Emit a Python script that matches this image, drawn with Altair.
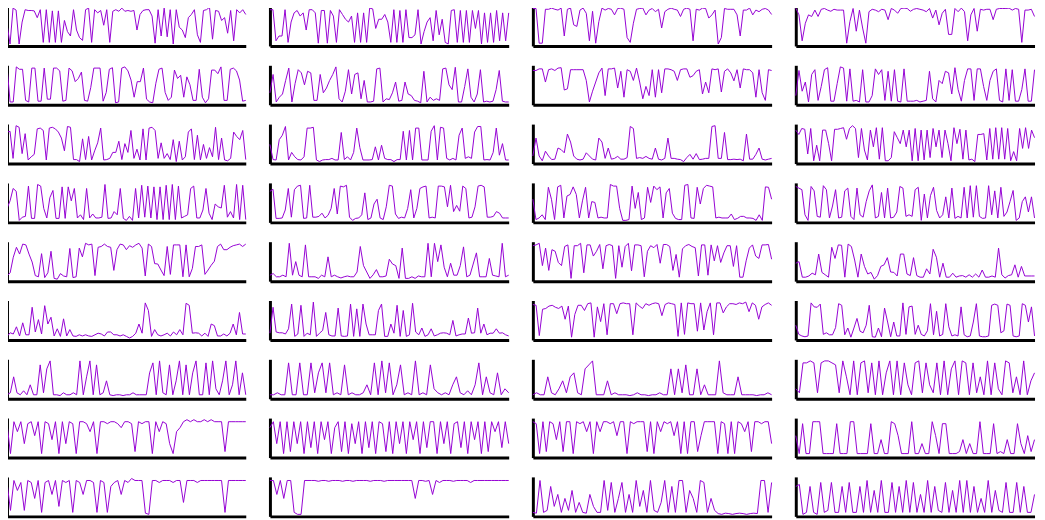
import altair as alt
import pandas as pd

# ---- values, level 0 (bottom) .. 9 (top), one list per panel, row by row ----
r1c1 = [5, 0, 9, 8.5, 0, 5.5, 8.6, 8.4, 8.4, 8.3, 6.6, 8.6, 0.4, 8.6, 0.4, 8.3, 0.4, 8.3, 0.4, 5.9, 3.1, 2, 8.6, 3.5, 1.6, 0.9, 8.6, 9, 0.4, 8.6, 7.8, 8.4, 4.7, 8.6, 0.4, 8.2, 8.6, 8.2, 9, 8.2, 8.4, 8.2, 8.4, 3.5, 7.4, 8.4, 8.6, 8.6, 7, 0.2, 8.6, 2, 9, 1.8, 8.6, 0, 8.6, 4.2, 3.5, 1.6, 6.6, 7.4, 8.6, 2.3, 0.4, 8.4, 8.6, 9.2, 1.2, 8.4, 8.2, 5.9, 6.6, 2.7, 8.4, 0.8, 8.6, 7.8, 8.6, 7.4]
r1c2 = [8.6, 8.6, 0.8, 2, 2, 8.6, 0.4, 5.5, 7.8, 8.4, 7, 7.8, 3.5, 8.6, 8.6, 7.8, 0.2, 8.4, 8.4, 0.2, 8.4, 7, 0.4, 8.6, 7.4, 6.2, 5.5, 7, 0.4, 7.8, 0.4, 7.8, 0.4, 9, 8.8, 3.9, 6.2, 6.2, 7.4, 5.5, 0.4, 8.6, 0.4, 8.4, 0.4, 8.6, 1.6, 1.6, 2.3, 8.6, 0, 3.1, 5.5, 6.6, 0.8, 8.4, 2.3, 6.2, 0.4, 0, 8.4, 8.6, 0.4, 8.4, 0.4, 8.4, 0.4, 8.4, 3.9, 8.4, 0, 7.8, 0.4, 7.8, 0.4, 8.4, 0.8, 7.8, 0.8, 7.8]
r1c3 = [8.9, 8.9, 0.2, 0.2, 8.7, 8.7, 9, 8.7, 8.5, 9, 2, 8.7, 9, 4.8, 4.4, 8.5, 9, 7.7, 0.8, 8.2, 0.2, 5.6, 9, 8.5, 8.9, 8.7, 7.3, 8.9, 9, 8.7, 1.6, 0.4, 5.2, 8.7, 8.9, 9, 7.3, 8.5, 8.9, 8.1, 8.7, 4, 8.1, 8.7, 9, 8.7, 8.5, 6.9, 8.7, 9, 8.7, 0.8, 8.7, 8.5, 9, 8.9, 6.5, 7.3, 8.5, 0, 1.6, 8.9, 8.7, 8.7, 8.7, 7.3, 2, 8.5, 8.5, 9, 7.3, 8.5, 8.1, 8.7, 8.9, 8.5, 7.4]
r1c4 = [9, 7.3, 0.8, 5.2, 7.3, 6.9, 8.5, 6.9, 8.7, 8.9, 8.5, 8.2, 8.7, 8.5, 8.5, 8.5, 0.2, 5.6, 8.9, 3.2, 8.5, 4, 0.2, 8.1, 8.7, 8.5, 8.1, 8.7, 8.5, 6.1, 8.9, 8.5, 7.7, 8.9, 9, 8.9, 8.2, 8.7, 8.9, 8.7, 8.5, 8.1, 8.9, 6.5, 8.5, 4.8, 7.7, 8.7, 2.4, 2.4, 8.9, 8.1, 9, 8.1, 0.8, 7.3, 8.9, 3.2, 8.7, 8.5, 8.7, 8.7, 6.1, 8.7, 8.9, 8.9, 8.9, 9, 8.5, 8.9, 8.7, 0.4, 8.5, 8.5, 8.7, 6.9]

r2c1 = [9, 0.2, 0.2, 9, 8.4, 8.4, 0.6, 0.2, 8.7, 8.7, 0.4, 0.4, 8.7, 0.9, 0.9, 8.7, 8.7, 8, 0.4, 0.6, 8.7, 8, 5.3, 6.1, 7.7, 0.6, 0.4, 3.8, 8.7, 8.7, 8.7, 0.4, 2.6, 8.4, 8.8, 0, 0.2, 8.7, 9, 8, 5.7, 1.4, 5.3, 5.3, 8.7, 0.9, 0.2, 0, 4.9, 8.4, 8.7, 2.6, 0.6, 1.4, 8.2, 6.1, 6.9, 1.4, 6.5, 4.5, 0.6, 0.6, 8.4, 1.4, 0, 1, 8.2, 8.2, 7.3, 9, 0.6, 0.6, 8.4, 8.7, 8, 5.7, 0.4, 0.6]
r2c2 = [2.5, 7.1, 0.2, 1.4, 2.2, 5.6, 8.7, 0.2, 4.8, 8.3, 7.5, 4.5, 7.9, 7.5, 0.6, 0.6, 7.1, 2.5, 3.7, 5.6, 7.1, 9, 1, 0.2, 2.9, 8.3, 2.2, 7.1, 7.5, 1, 5.6, 0.2, 0.2, 0.4, 8.5, 8.7, 0.2, 1, 0.8, 2.5, 5.2, 0.4, 0.6, 5.2, 2.2, 1.8, 0.6, 0.4, 0, 7.9, 0.2, 1.4, 0.6, 1, 0.6, 8.5, 8.7, 4.5, 3.3, 8.9, 0.2, 0.2, 4.1, 8.5, 1.4, 0.2, 2.2, 8.3, 0.2, 0.4, 0.2, 0.4, 3.3, 8.1, 0.4, 0.2, 0.2]
r2c3 = [8.1, 8.1, 8.5, 8.5, 5.2, 8.3, 8.5, 8.1, 8.7, 8.8, 3.2, 3.5, 8.3, 8.3, 8.3, 8.3, 8.3, 5.6, 0.2, 2.9, 5.2, 7.5, 8.7, 1.8, 8.5, 8.5, 8.7, 3.7, 7.9, 1.4, 8.3, 7.9, 5.6, 8.7, 5.2, 1, 4.1, 1.8, 8.3, 1.4, 8.3, 2.5, 8.5, 8.5, 8.3, 7.9, 5.6, 8.3, 8.5, 8.5, 6.4, 6.8, 7.9, 8.3, 2.2, 5.2, 2.5, 8.5, 8.3, 8.5, 2.7, 7.9, 8.5, 7.5, 5.5, 8.3, 3.7, 8.5, 8.3, 8.3, 7.5, 1.4, 8.3, 2.5, 0.6, 8.3, 8.1]
r2c4 = [1.8, 8.1, 2.9, 5.2, 0.2, 7.1, 8.3, 0.6, 4.1, 8.3, 8.8, 0.4, 0.4, 4.8, 9, 8.7, 0.4, 8.5, 0.4, 0.6, 0.2, 8.3, 0.2, 0.2, 1.8, 8.5, 7.1, 8.3, 0.6, 7.9, 0.4, 8.3, 0.4, 0.2, 8.5, 0.4, 0.4, 0.4, 0.6, 0.2, 0.4, 0.6, 7.9, 1, 0.2, 5.6, 4.8, 7.9, 7.5, 2.2, 8.8, 3.3, 0.4, 5.6, 8.5, 8.5, 0.6, 8.5, 8.5, 4.1, 0.6, 5.6, 7.9, 8.5, 0.6, 0.2, 8.5, 0.6, 8.3, 0.4, 0.4, 3.3, 8.5, 0.4, 0.4, 8.3]

r3c1 = [7.4, 7.6, 0.8, 9, 8.6, 2, 7, 0.4, 1.2, 1.8, 8.2, 8.4, 7.8, 0.4, 8.4, 8.6, 8.2, 7.4, 5.9, 2.7, 8.8, 8.6, 0.5, 0.5, 0, 5.7, 0.5, 6.3, 0.4, 2.7, 4.7, 8.4, 0.4, 0.5, 0.8, 2.3, 2.3, 5.1, 0.5, 4.5, 2.3, 7.8, 0.8, 3.1, 0.4, 8.2, 0.4, 8.4, 8.6, 7.8, 0.8, 4.7, 0.8, 2, 0.5, 5.5, 0, 5.1, 0.4, 1.2, 7.4, 8.2, 0.5, 6.6, 0.4, 4.3, 0.8, 3.5, 1.2, 8.6, 0.5, 5.9, 0.4, 0.2, 0.8, 7.4, 6.3, 5.5, 7.8, 0.5]
r3c2 = [4.3, 0.5, 0.4, 5.5, 6.6, 8.8, 0.4, 2.3, 1.2, 0.5, 0.4, 1.2, 8.4, 8.4, 8.6, 0.4, 0, 0.4, 0.5, 0.5, 0.8, 0.4, 0.4, 7.3, 0.5, 1.2, 0.4, 2.3, 8.4, 3.5, 0.4, 0.4, 0.4, 0.5, 3.7, 0.4, 4.1, 0.8, 0.5, 0.5, 0, 0.5, 0.5, 7.6, 0.4, 7.8, 0.4, 8.4, 8.4, 0.4, 0.4, 0.4, 7.6, 9, 0.4, 8.6, 8.4, 0.8, 0.4, 0.8, 0.4, 6.6, 8.4, 0.8, 1.2, 0.8, 7.4, 8.8, 8.8, 0.4, 0.5, 0.4, 2.3, 8.4, 1.6, 4.5, 0.4, 0.4]
r3c3 = [1.4, 5.9, 1.4, 0.2, 2.6, 1.4, 0.5, 0.6, 3.4, 3, 2.2, 6.9, 4.9, 1.4, 0.6, 0.4, 0.6, 2.2, 1.4, 0.6, 0.4, 5.9, 4.9, 0.8, 3.4, 0.6, 0.8, 1.3, 0.6, 0.6, 1, 8.8, 8.3, 0.8, 1, 0.8, 1.3, 0.8, 0.6, 3.4, 0.6, 0.4, 0.8, 5.9, 0.8, 0.8, 0.6, 0.5, 0, 1, 1.8, 0.6, 2, 0.5, 0.6, 0.8, 0.8, 8.8, 9, 0.8, 0.8, 7.3, 0.5, 0.5, 0.6, 0.5, 0.6, 0.2, 6.9, 0.6, 0.6, 1.8, 3.4, 0.6, 0.4, 0.6, 0.8]
r3c4 = [7.9, 6.8, 8.3, 8.1, 1.9, 8.3, 0.2, 4.1, 0.2, 7.9, 7.9, 4.5, 0.2, 8.1, 8.1, 8.3, 8.5, 5.6, 8.3, 9, 8.3, 1, 8.3, 2.9, 0.4, 7.9, 3.7, 8.5, 0.6, 8.5, 0.2, 0.2, 1, 7.5, 6, 4.5, 7.9, 3.7, 7.9, 0.2, 8.3, 0.2, 7.9, 0.4, 7.9, 1, 8.3, 3.7, 7.9, 1, 7.9, 4.5, 0.2, 8.5, 4.5, 8.1, 0.6, 7.9, 0.4, 0.6, 0, 6.8, 6.8, 7, 0.4, 8.3, 0.6, 8.5, 0.6, 8.5, 0.6, 8.3, 0.2, 2.5, 0.2, 8.3, 3.3, 8.5, 3.3, 7.9, 6]

r4c1 = [3, 4.9, 8, 7.3, 0, 0.8, 1, 8.6, 0.5, 0.5, 9, 8.6, 3, 0.6, 5.7, 7.5, 0.5, 0.5, 8.4, 0.5, 8.4, 4.9, 8, 0.6, 1.4, 0.2, 8, 0.6, 1.6, 0.6, 0.6, 0.8, 9, 0.5, 0.6, 2.2, 1.4, 8, 0.5, 0, 1, 0, 8, 0.6, 8.8, 0.8, 8.6, 0.6, 8.4, 0.2, 8.4, 0.2, 8.8, 0.2, 9, 0.2, 8.6, 0.6, 1, 1.4, 8, 8.6, 0.6, 0.6, 2.6, 8, 1.8, 0.2, 4.1, 3.4, 3.1, 8.8, 0.8, 2.2, 0.6, 9, 0.2, 8.8, 0.2]
r4c2 = [7.3, 7.8, 0.5, 0.5, 0.6, 2.6, 8, 0.8, 7.7, 8.6, 8.8, 0.5, 0.6, 8.8, 0.8, 0.8, 1, 1.8, 0.6, 1.3, 3, 8, 1.6, 8.6, 8.4, 8.8, 0.8, 0, 0.5, 0.6, 1.4, 6.9, 0.2, 0.6, 4.1, 5.3, 0.6, 0.2, 3.4, 8.8, 8.6, 1.6, 0.5, 0.8, 0.6, 3, 7.7, 0.6, 3, 8, 8.4, 8.6, 0.6, 0.8, 0.6, 8.6, 8.6, 8.4, 3.4, 8.8, 2.2, 3.75, 2.3, 8.6, 8, 0.6, 0.8, 3.4, 8.6, 8.8, 8.4, 0.8, 0.8, 1, 2.2, 1.8, 0.6, 0.6, 0.6]
r4c3 = [5.3, 0.2, 0.6, 1.4, 0.2, 8.3, 5.3, 0.2, 8.4, 8.8, 0.6, 6.1, 6.5, 8.4, 6.5, 0.6, 4.9, 8.3, 0.6, 4.7, 4.5, 0.6, 0.8, 0.6, 0.6, 9, 8.6, 8.6, 3, 0, 0, 0.2, 8.6, 3, 7, 0.2, 0.6, 8.3, 4.5, 8.6, 7.7, 8.4, 0.6, 6.9, 8, 1.8, 0.5, 0.2, 0.2, 8.8, 9, 0.6, 0.5, 8.3, 4.1, 8, 8.8, 8.6, 8.4, 0.6, 0.8, 0.6, 0.6, 0.6, 1.6, 0.2, 0.5, 1, 1, 0.6, 0.6, 0.5, 0, 1.4, 0, 8.4, 8.3, 5.3]
r4c4 = [8.5, 8.1, 7.7, 1.4, 0, 8.5, 7.4, 1, 0.8, 8.7, 7.7, 0.6, 3.6, 7.7, 0.6, 0.8, 7.4, 8.1, 1, 0.2, 8.1, 1.4, 0.8, 4.7, 7.4, 8.9, 0.6, 1, 7, 0.6, 8.1, 0.6, 0.8, 2.1, 8.5, 8.1, 1, 1.4, 1, 7.7, 8.3, 0, 6.6, 0.6, 6.2, 8.3, 2.5, 0.6, 1.4, 5.9, 0.6, 8.1, 0.5, 1, 0.6, 8.3, 0.6, 8.7, 0.8, 8.7, 1, 0.5, 0.6, 8.7, 1.4, 7.4, 0.6, 8.3, 1, 2.1, 4.7, 7.5, 0, 0.6, 4.7, 5.9, 2.1, 5.9, 0.6]

r5c1 = [0.8, 1.6, 5.5, 8, 6.3, 8.8, 8.6, 6.3, 4.3, 0.9, 0.6, 6.4, 0.4, 1.6, 7, 0.2, 0, 1.4, 0.8, 0.6, 7.7, 0.4, 0.6, 7.8, 5.6, 9, 8.6, 8.8, 0.9, 8, 8.2, 8.8, 8.2, 8, 2.2, 7.4, 8.8, 8.6, 7.4, 8.4, 8, 8.6, 9, 7.8, 0.8, 8.8, 8.2, 3.9, 3.8, 2.3, 0.9, 8.2, 1.2, 8.6, 8.6, 8.6, 0.6, 8.6, 0.6, 2.7, 8.2, 8.2, 8.6, 1.2, 2.3, 3.5, 4.5, 8.2, 8.8, 7.4, 7.4, 8, 8.4, 8.6, 8.8, 8.2, 8.8]
r5c2 = [1, 1.4, 0.6, 0.6, 1, 0.6, 9, 1, 4.4, 1, 0.6, 8.6, 0.6, 0.6, 0.6, 0.2, 1, 0.6, 5.6, 0.6, 1, 0.6, 0.3, 0.6, 0.8, 0.6, 0.6, 1.8, 8.2, 3.4, 1.8, 0.2, 1.1, 2.4, 0.6, 0.6, 0.8, 5, 3.8, 3.4, 0.2, 7.8, 0.2, 0.2, 0.6, 0.2, 0.8, 0.6, 0.6, 9, 0.6, 9, 4.4, 8.6, 3, 0.6, 4, 1, 1, 3.4, 8.1, 0.6, 1, 3.8, 6.6, 0.6, 0.6, 0.6, 5.2, 1, 0.8, 0.6, 9, 0.6, 1]
r5c3 = [8.4, 8.6, 9, 3.4, 7.8, 2.2, 7.4, 7, 4.2, 3.4, 8.2, 8.6, 0.2, 8.4, 8.4, 9, 1.6, 8.6, 8.6, 5.8, 7, 8.7, 2.6, 8.4, 8.7, 8.4, 0.2, 8.4, 3, 8.2, 9, 2.1, 8.6, 8.6, 8.4, 0.6, 7, 8.4, 7.9, 8.7, 4, 8.7, 8.7, 8.2, 2.2, 6.2, 0.5, 7.6, 8.4, 8.7, 8.2, 7.9, 0.8, 8.6, 8.6, 1, 8.6, 4.6, 8.4, 4.2, 6.6, 8.4, 8.4, 3.2, 8.4, 0.5, 0.5, 4.6, 7.8, 8.6, 5.8, 5.2, 8.6, 8.6, 8.7, 5]
r5c4 = [4, 4.4, 0.5, 0.5, 0.8, 1.5, 1.1, 6.3, 1.7, 1.1, 0.5, 8, 5.2, 8.6, 8.5, 0.5, 8.8, 8.2, 4.8, 0.5, 6.3, 3.2, 1.3, 1.7, 0, 0.9, 3.2, 3.6, 5.4, 1.8, 1.7, 0.8, 6.3, 6.3, 1.3, 0.9, 5.4, 0.9, 0.5, 0.5, 2.6, 1.3, 7.5, 5.5, 0.5, 4, 0.5, 0.5, 1.5, 0.5, 0.8, 0.9, 0.5, 1.1, 0.5, 1.3, 0.5, 2.3, 0.5, 0.5, 0.8, 0.5, 7.8, 1.1, 0.3, 0.9, 1.1, 3.6, 0.5, 3.2, 0.8, 0.8, 0.8, 0.8]

r6c1 = [0.4, 1.3, 1, 2.8, 0.5, 3.8, 0.8, 0.8, 7.7, 1.5, 4.6, 1, 8.1, 3.5, 5.2, 0.5, 2.3, 0.4, 4.8, 0.5, 2.1, 0.5, 0.4, 0.8, 0.5, 0.8, 0.5, 0.4, 0.8, 1.2, 1, 0.5, 1.5, 1.5, 0.8, 0.8, 0.5, 0.8, 0.4, 0, 0.4, 1.2, 3.5, 1.2, 8.8, 6.9, 0.4, 2.1, 0.8, 0.5, 0.8, 1.2, 0.5, 1.5, 0.8, 2.1, 0.8, 8.7, 8.2, 1.2, 1.3, 1.2, 0.5, 1.2, 0.4, 3.5, 3.1, 0.5, 0.5, 1, 0.5, 1.2, 3.5, 0.8, 6.4, 1, 1]
r6c2 = [1.2, 7.7, 1.5, 1.3, 1.3, 1, 2.3, 8.5, 0.4, 1, 8.2, 0.4, 1.2, 0.8, 9, 0.4, 1.2, 1.9, 6.4, 0.8, 0.5, 0.5, 7.5, 0.5, 0.4, 0.5, 8.5, 0.4, 7.3, 0.4, 8.5, 3.5, 0.8, 0.8, 0.8, 6.9, 8.5, 0.4, 0.4, 3.5, 1.2, 8.2, 0.4, 6.9, 0.4, 0.8, 8.7, 1.5, 0.8, 2.5, 0.4, 0.8, 2.3, 0.5, 0.8, 1.2, 1.3, 1.2, 0.8, 4.4, 0.5, 0.8, 1, 1, 5, 1.2, 1.3, 7.5, 1.2, 3.5, 0.8, 1.2, 1.2, 2.3, 1.2, 1.3, 0.8, 0.5]
r6c3 = [8.4, 8.2, 0.6, 7.2, 7.4, 8, 8.2, 7.7, 7.4, 8, 4.7, 8, 0.2, 5.9, 8.2, 8.2, 6.9, 8.6, 8.8, 0.2, 7.8, 4.1, 8.6, 0.8, 8.6, 8.6, 6.1, 8.6, 8.8, 8.6, 8.6, 0.8, 8.8, 8, 7.4, 8.6, 8.2, 8.6, 8.8, 8.6, 5.6, 8.4, 8.8, 8.6, 8.4, 0.4, 8.8, 0.9, 8.8, 8.6, 8.6, 1.7, 8.8, 2, 6.6, 8.8, 0.8, 8.8, 8.8, 6.3, 7.8, 8.6, 8.6, 8.4, 8.8, 8.6, 9, 6.6, 8.8, 8.2, 4.7, 7.8, 8.4, 8.8, 8.2]
r6c4 = [3.2, 0.9, 0.5, 0.3, 0.5, 8.8, 7.8, 7.7, 8.5, 0.9, 1.3, 0.8, 0.8, 2.6, 8.6, 8.2, 0.8, 2.5, 0.2, 2.5, 4.9, 1.7, 1.3, 3.2, 8.2, 0.3, 0.2, 2.5, 0.3, 7.5, 4, 0.3, 4, 0.5, 0.5, 8.8, 0.9, 7.8, 8, 0.9, 3.2, 0.9, 0.5, 1.8, 8.6, 0.8, 6.7, 0.5, 0.9, 8.6, 2.8, 0.5, 0.8, 0.5, 7.8, 0.8, 0.3, 0.5, 4, 8.6, 0.5, 0.3, 0.3, 0.5, 8.2, 8.5, 8.2, 1.3, 1.8, 8.5, 8.2, 0.5, 0.3, 0.5, 8.6, 8.2, 4, 7.8, 0.5]

r7c1 = [0.5, 1, 5, 1, 0.5, 1.5, 0.5, 3, 0.5, 0.5, 8, 1, 7, 9, 0.5, 0.5, 0.3, 1, 0.5, 0.5, 1, 0.5, 9, 0.5, 5, 9, 0.5, 8, 0.5, 1, 4, 0.5, 0.3, 0.5, 0.5, 0.3, 0.5, 0.5, 1, 0.5, 0.5, 0.5, 0.5, 6, 8.5, 0.5, 9, 1, 0.5, 8, 0.5, 4, 9, 0.5, 8, 0.5, 6, 9, 0.5, 0.5, 8.5, 0.5, 9, 2, 0.5, 4, 9, 0.5, 3, 9, 0.5, 6, 0.5]
r7c2 = [0.5, 0.5, 1, 0.5, 0.5, 8.5, 0.5, 0.5, 8.5, 0.5, 0.5, 8.5, 1, 6, 8.5, 1, 8.5, 0.5, 1, 0.5, 8, 0.5, 1, 0.5, 0.5, 1, 3, 0.5, 8.5, 0.5, 9, 1, 8.5, 0.5, 3, 8, 0.5, 1, 0.5, 9, 0.5, 1, 0.5, 8, 2, 1, 0.5, 1, 0.5, 3, 5, 1, 0.5, 1.5, 0.5, 3, 8.5, 0.5, 5, 1, 0.5, 6, 0.5, 2, 1]
r7c3 = [0.5, 1, 0.5, 0.5, 5, 1, 0.5, 2, 4, 1, 5, 6, 1, 0.5, 7, 8, 9, 0.5, 0.5, 0.5, 4, 0.5, 1, 0.5, 0.5, 0.5, 0.3, 0.5, 1, 0.5, 0.5, 0.3, 0.5, 0.5, 1, 0.5, 0.5, 7, 0.5, 7, 1, 8, 0.5, 0.5, 7, 0.5, 3, 0.5, 0.5, 0.5, 9, 1, 0.5, 0.5, 0.5, 5, 0.5, 0.5, 0.5, 0.5, 0.3, 0.5, 0.5, 1, 0.5]
r7c4 = [2, 1, 8.5, 8.5, 9, 8.5, 1, 8.5, 9, 9, 8.5, 8, 1, 9, 5, 0.5, 9, 0.5, 8.5, 9, 1, 8.5, 0.5, 9, 0.5, 6, 9, 0.5, 9, 0.5, 8.5, 3, 0.5, 8.5, 9, 1, 8.5, 3, 1, 8.5, 0.5, 9, 0.5, 7, 9, 0.5, 9, 8.5, 0.5, 8.5, 1, 5, 0.5, 9, 0.5, 8.5, 2, 0.5, 9, 8.5, 1, 5, 0.5, 9, 0.5, 4, 6]

r8c1 = [8, 0.5, 8.5, 6, 8.5, 3, 8, 8.5, 5, 8.5, 0.5, 8.5, 8, 4, 8.5, 0.5, 8.5, 3, 8.5, 8, 0.5, 8.5, 8.5, 8, 6, 8.5, 0.5, 8.5, 8.5, 8, 8.5, 8.5, 8, 7, 8.5, 8.5, 8, 1, 8.5, 8, 8.5, 8.5, 0.5, 8.5, 6, 8.5, 8, 3, 0.5, 6, 7, 8.5, 9, 8.5, 9, 8.5, 8.5, 9, 8.5, 9, 8.5, 8.5, 8.5, 1, 8.5, 8.5, 8.5, 8.5, 8.5, 8.5]
r8c2 = [7, 8.5, 3, 8.5, 0.5, 8.5, 1, 8.5, 3, 8.5, 0.5, 8.5, 2, 8.5, 0.5, 8.5, 4, 8.5, 0.5, 7, 8.5, 1, 8.5, 0.5, 8, 3, 8.5, 0.5, 8.5, 2, 8.5, 0.5, 8.5, 8, 1, 8.5, 0.5, 8.5, 3, 8.5, 0.5, 8.5, 4, 8.5, 0.5, 8.5, 2, 8.5, 8.5, 0.5, 8.5, 3, 8.5, 0.5, 8, 8.5, 2, 8.5, 0.5, 8.5, 4, 8.5, 0.5, 8.5, 1, 8.5, 6, 8.5, 2, 8.5, 3]
r8c3 = [8.5, 8, 0.5, 8.5, 1, 8.5, 8, 4, 8.5, 1, 8.5, 8.5, 0.5, 8.5, 8, 8.5, 6, 8.5, 0.5, 8.5, 6, 8.5, 8.5, 8, 8.5, 5, 8.5, 8.5, 0.5, 8.5, 8, 8.5, 8.5, 8.5, 1, 8.5, 0.5, 8.5, 6, 8.5, 8, 8.5, 5, 8.5, 0.5, 8.5, 0.5, 8.5, 8.5, 1, 5, 8.5, 8.5, 8.5, 8.5, 0.5, 8.5, 8, 0.5, 8.5, 0.5, 8.5, 8, 6, 8.5, 1, 8.5, 8.5, 8, 8.5, 8.5, 3]
r8c4 = [5, 0.5, 8, 0.5, 0.5, 8.5, 8.5, 8.5, 0.5, 0.5, 0.5, 0.5, 8, 0.5, 0.5, 0.5, 8.5, 8.5, 0.5, 0.5, 0.5, 0.5, 8, 0.5, 0.5, 4, 0.5, 0.5, 8.5, 8, 5, 0.5, 0.5, 0.5, 8.5, 0.5, 0.5, 3, 0.5, 0.5, 8.5, 5, 0.5, 8, 8, 0.5, 0.5, 0.5, 1, 4, 0.5, 3, 0.5, 0.5, 8.5, 0.5, 0.5, 0.5, 8, 0.5, 1, 0.5, 4, 0.5, 0.5, 8, 3, 0.5, 5, 1, 4]

r9c1 = [8, 1, 8.5, 6, 8, 1, 8.5, 8, 4, 8.5, 0.5, 8, 8.5, 5, 8.5, 2, 8.5, 8, 8.5, 0.5, 8.5, 8, 5, 8.5, 8.5, 8, 0.5, 8.5, 8, 0.5, 7, 8, 8.5, 5, 8.5, 8, 9, 8.5, 8.5, 8.5, 0.3, 0, 8.5, 8.5, 8, 8.5, 8.5, 8.5, 8, 8.5, 8.5, 3, 8.5, 8.5, 8.5, 8, 8.5, 8.5, 8.5, 8.5, 8.5, 8.5, 8.5, 0.5, 8.5, 8.5, 8.5, 8.5, 8.5, 8.5]
r9c2 = [8.5, 8.5, 5, 8.5, 4, 8.5, 8.5, 0.5, 0, 0, 8.5, 8.5, 8.5, 8.5, 8.3, 8.5, 8.5, 8.3, 8.5, 8.5, 8.5, 8.3, 8.5, 8.5, 8.3, 8.5, 8.5, 8.5, 8.5, 8.3, 8.5, 8.5, 8.5, 8.3, 8.5, 8.5, 8.5, 8.5, 8.5, 8.5, 8.5, 8.5, 4, 8.5, 8.5, 8.3, 8.5, 5, 8.5, 8, 8.5, 8.5, 8.5, 8.3, 8.5, 8.5, 8.5, 8.5, 8, 8.5, 8.5, 8.5, 8.5, 8.5, 8.5, 8.5, 8.5, 8.5, 8.5, 8.5]
r9c3 = [0.5, 0.3, 8.5, 0.5, 1, 7, 2, 5, 0.5, 4, 1, 6, 0.5, 3, 0.5, 0.3, 5, 2, 0.5, 0.5, 8.5, 1, 8, 0.5, 4, 8, 0.5, 5, 0.5, 8.5, 2, 6, 0.5, 8.5, 1, 0.5, 3, 8.5, 0.5, 7, 0.5, 8.5, 8.5, 0.5, 6, 4, 0.5, 8.5, 8, 0.5, 4, 1, 0.2, 0, 0.3, 0.2, 0, 0.2, 0.3, 0.2, 0, 0.2, 0.3, 0.2, 8.5, 8.5, 0.5, 8]
r9c4 = [7, 7.5, 0, 0.5, 7, 0.5, 0, 8, 0.5, 1, 8, 0.5, 0.5, 7, 0.5, 8, 0.5, 0.5, 7, 0.5, 8.5, 0.5, 6, 0.5, 8.5, 0.5, 0.5, 8, 0.5, 7, 0.5, 8.5, 0.5, 8, 0.5, 5, 0.5, 8.5, 0.5, 7, 1, 0.5, 8, 0.5, 6, 0.5, 8.5, 0.5, 8.5, 0.5, 7, 0.5, 4, 0.5, 8.5, 0.5, 6, 1, 0.5, 8, 0.5, 0.5, 8, 0.5, 7, 0.5, 0.5, 5]

grid = [
    [r1c1, r1c2, r1c3, r1c4],
    [r2c1, r2c2, r2c3, r2c4],
    [r3c1, r3c2, r3c3, r3c4],
    [r4c1, r4c2, r4c3, r4c4],
    [r5c1, r5c2, r5c3, r5c4],
    [r6c1, r6c2, r6c3, r6c4],
    [r7c1, r7c2, r7c3, r7c4],
    [r8c1, r8c2, r8c3, r8c4],
    [r9c1, r9c2, r9c3, r9c4],
]

LINE = "#9400D3"
AX = dict(title=None, labels=False, ticks=False, grid=False,
          domainColor="black", domainWidth=3)


def panel(vals):
    df = pd.DataFrame({"i": list(range(len(vals))), "v": vals})
    return alt.Chart(df).mark_line(color=LINE, strokeWidth=1).encode(
        x=alt.X("i:Q", scale=alt.Scale(nice=False, zero=True), axis=alt.Axis(**AX)),
        y=alt.Y("v:Q", scale=alt.Scale(domain=[-0.5, 9.4], nice=False, zero=False),
                axis=alt.Axis(**AX)),
    ).properties(width=242, height=40)


rows = [alt.hconcat(*[panel(v) for v in row], spacing=20.5) for row in grid]
chart = alt.vconcat(*rows, spacing=18.6).properties(
    padding={"top": -7, "left": -3, "right": 0, "bottom": 0}
).configure_view(stroke=None)

chart.save("out.html", embed_options={"renderer": "svg", "actions": False})
